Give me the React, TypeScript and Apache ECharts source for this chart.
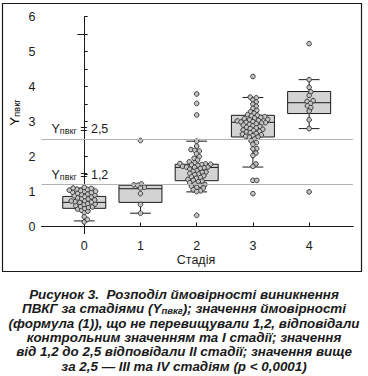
import React, { useEffect, useRef } from "react";
import * as echarts from "echarts";

// ---- data ----
const stages = [0, 1, 2, 3, 4];
const yTickValues = [0, 0.5, 1, 1.5, 2, 2.5, 3, 3.5, 4, 4.5, 5, 5.5, 6];
const yLabelValues = [0, 1, 2, 3, 4, 5, 6];

// box stats: [lower whisker, Q1, median, Q3, upper whisker]
const box0 = [0.16, 0.52, 0.69, 0.86, 1.1];
const box1 = [0.38, 0.69, 1.08, 1.18, 1.2];
const box2 = [0.99, 1.31, 1.69, 1.78, 2.44];
const box3 = [1.7, 2.56, 2.98, 3.18, 3.69];
const box4 = [2.8, 3.23, 3.54, 3.86, 4.2];

const stage0 = [0.13, 0.2, 0.28, 0.4, 0.44, 0.47, 0.5, 0.52, 0.55, 0.56, 0.58, 0.6, 0.63, 0.64, 0.66, 0.69, 0.7, 0.71, 0.73, 0.74, 0.76, 0.79, 0.8, 0.82, 0.85, 0.86, 0.88, 0.9, 0.92, 0.93, 0.95, 0.97, 0.98, 1.0, 1.01, 1.03, 1.04, 1.06, 1.07, 1.09, 1.1, 1.12];
const stage1 = [2.46, 1.22, 1.19, 1.18, 1.12, 1.1, 0.94, 0.63, 0.38];
const stage2 = [3.79, 3.52, 3.19, 2.44, 2.3, 2.2, 2.18, 2.16, 2.08, 2.0, 1.95, 1.9, 1.85, 1.82, 1.8, 1.79, 1.78, 1.77, 1.76, 1.75, 1.72, 1.7, 1.7, 1.69, 1.68, 1.66, 1.64, 1.6, 1.58, 1.56, 1.55, 1.52, 1.5, 1.48, 1.45, 1.42, 1.4, 1.38, 1.35, 1.32, 1.3, 1.28, 1.25, 1.22, 1.2, 1.18, 1.15, 1.12, 1.1, 1.05, 1.02, 1.0, 0.32];
const stage3 = [4.29, 3.7, 3.68, 3.62, 3.56, 3.5, 3.44, 3.38, 3.32, 3.28, 3.24, 3.2, 3.18, 3.16, 3.14, 3.12, 3.1, 3.08, 3.06, 3.05, 3.03, 3.02, 3.0, 2.99, 2.98, 2.97, 2.96, 2.94, 2.92, 2.9, 2.88, 2.86, 2.84, 2.82, 2.8, 2.78, 2.76, 2.74, 2.72, 2.7, 2.68, 2.66, 2.64, 2.62, 2.6, 2.58, 2.56, 2.55, 2.5, 2.45, 2.4, 2.35, 2.23, 2.22, 2.1, 2.03, 1.79, 1.72, 1.32, 1.32, 0.94];
const stage4 = [5.23, 4.2, 3.98, 3.85, 3.75, 3.6, 3.58, 3.52, 3.45, 3.4, 3.3, 3.05, 2.8, 0.99];

const thresholds = [2.5, 1.2];
const thresholdLabels = ["2,5", "1,2"];

const captionLines = [
  "Рисунок 3.  Розподіл ймовірності виникнення",
  "ПВКГ за стадіями (Y{s|пвкг}); значення ймовірності",
  "(формула (1)), що не перевищували 1,2, відповідали",
  "контрольним значенням та І стадії; значення",
  "від 1,2 до 2,5 відповідали ІІ стадії; значення вище",
  "за 2,5 — ІІІ та IV стадіям (р < 0,0001)",
];

const boxes = [box0, box1, box2, box3, box4];
const groups = [stage0, stage1, stage2, stage3, stage4];

const FONT = "'Liberation Sans', Arial, sans-serif";
const BOX_W = 0.765;
const CAP_W = 0.37;
const DOT_R = 2.3;
const DOT_D = 3.9;

function swarm(ys: number[], d: number): number[] {
  const order = ys.map((_, i) => i).sort((a, b) => ys[b] - ys[a]);
  const placed: { x: number; y: number }[] = [];
  const off = new Array(ys.length).fill(0);
  for (const i of order) {
    const y = ys[i];
    const near = placed.filter((p) => Math.abs(p.y - y) < d);
    const cands = [0];
    for (const p of near) {
      const dx = Math.sqrt(d * d - (p.y - y) * (p.y - y));
      cands.push(p.x + dx, p.x - dx);
    }
    cands.sort((a, b) => Math.abs(a) - Math.abs(b));
    let chosen = 0;
    for (const c of cands) {
      let ok = true;
      for (const p of near) {
        const dy = p.y - y;
        if ((p.x - c) * (p.x - c) + dy * dy < d * d - 1e-6) {
          ok = false;
          break;
        }
      }
      if (ok) {
        chosen = c;
        break;
      }
    }
    off[i] = chosen;
    placed.push({ x: chosen, y });
  }
  return off;
}

export default function App() {
  const ref = useRef<HTMLDivElement>(null);
  useEffect(() => {
    if (!ref.current) return;
    const chart = echarts.init(ref.current, null, { renderer: "svg" });
    const cache = new Map<string, number[]>();

    const boxData = boxes.map((b, g) => [stages[g], ...b]);
    const pointData: number[][] = [];
    groups.forEach((arr, g) => arr.forEach((v, i) => pointData.push([stages[g], v, i, g])));

    const subRich = {
      a: { fontSize: 12.5, lineHeight: 14, fontFamily: FONT, color: "#1a1a1a" },
      s: { fontSize: 9, lineHeight: 10, fontFamily: FONT, color: "#1a1a1a", padding: [4, 0, 0, 0] },
    };

    const graphics: any[] = [
      {
        type: "rect",
        shape: { x: 2.5, y: 3.5, width: 359, height: 268 },
        style: { fill: "none", stroke: "#1a1a1a", lineWidth: 1.2 },
        silent: true,
      },
      {
        type: "text",
        x: 14,
        y: 112.5,
        rotation: Math.PI / 2,
        style: {
          text: "{a|Y}{s|пвкг}",
          rich: {
            a: { fontSize: 13, lineHeight: 14, fontFamily: FONT, color: "#1a1a1a" },
            s: { fontSize: 9.5, lineHeight: 10, fontFamily: FONT, color: "#1a1a1a", padding: [4, 0, 0, 0] },
          },
          align: "center",
          verticalAlign: "middle",
        },
      },
      {
        type: "text",
        x: 196,
        y: 259.5,
        style: {
          text: "Стадія",
          fontSize: 12.5,
          lineHeight: 13,
          fontFamily: FONT,
          fill: "#1a1a1a",
          align: "center",
          verticalAlign: "middle",
        },
      },
    ];
    captionLines.forEach((line, k) => {
      graphics.push({
        type: "text",
        x: 184,
        y: 294.5 + k * 14.3,
        style: {
          text: line,
          align: "center",
          verticalAlign: "middle",
          fontSize: 13.4,
          lineHeight: 13,
          fontWeight: "bold",
          fontStyle: "italic",
          fontFamily: FONT,
          fill: "#1a1a1a",
          rich: {
            s: { fontSize: 9.5, lineHeight: 9, fontWeight: "bold", fontStyle: "italic", fontFamily: FONT, fill: "#1a1a1a", padding: [4, 0, 0, 0] },
          },
        },
      });
    });

    chart.setOption({
      animation: false,
      grid: { left: 41.5, right: 15, top: 16.7, bottom: 142.5, containLabel: false },
      xAxis: [
        {
          type: "value",
          min: -0.76,
          max: 4.78,
          splitLine: { show: false },
          axisLine: { show: true, lineStyle: { color: "#1a1a1a", width: 1 } },
          axisTick: { show: true, inside: true, length: 4, customValues: stages, lineStyle: { color: "#1a1a1a" } },
          axisLabel: { customValues: stages, color: "#1a1a1a", fontSize: 12.5, lineHeight: 12, fontFamily: FONT, margin: 6 },
        },
        {
          type: "value",
          position: "top",
          min: -0.76,
          max: 4.78,
          splitLine: { show: false },
          axisLine: { show: true, lineStyle: { color: "#1a1a1a", width: 1 } },
          axisTick: { show: false },
          axisLabel: { show: false },
        },
      ],
      yAxis: [
        {
          type: "value",
          min: -0.2,
          max: 6,
          splitLine: { show: false },
          axisLine: { show: true, lineStyle: { color: "#1a1a1a", width: 1 } },
          axisTick: { show: true, inside: true, length: 3.5, customValues: yTickValues, lineStyle: { color: "#1a1a1a" } },
          axisLabel: { customValues: yLabelValues, color: "#1a1a1a", fontSize: 12.5, fontFamily: FONT, margin: 6 },
        },
        {
          type: "value",
          position: "right",
          min: -0.2,
          max: 6,
          splitLine: { show: false },
          axisLine: { show: true, lineStyle: { color: "#1a1a1a", width: 1 } },
          axisTick: { show: true, inside: true, length: 7, customValues: [5.5], lineStyle: { color: "#1a1a1a" } },
          axisLabel: { show: false },
        },
      ],
      graphic: graphics,
      series: [
        {
          type: "line",
          data: [],
          xAxisIndex: 0,
          yAxisIndex: 0,
          markLine: {
            silent: true,
            symbol: "none",
            lineStyle: { color: "#b3b3b3", width: 1, type: "solid" },
            data: thresholds.map((t, k) => ({
              yAxis: t,
              label: {
                show: true,
                position: "insideStartTop",
                distance: [10, 3],
                formatter: "{a|Y}{s|пвкг}{a| = " + thresholdLabels[k] + "}",
                rich: subRich,
              },
            })),
          },
        },
        {
          type: "custom",
          z: 2,
          xAxisIndex: 0,
          yAxisIndex: 0,
          data: boxData,
          encode: { x: 0, y: [1, 2, 3, 4, 5] },
          renderItem: (params: any, api: any) => {
            const g = api.value(0);
            const lo = api.coord([g, api.value(1)]);
            const q1 = api.coord([g, api.value(2)]);
            const md = api.coord([g, api.value(3)]);
            const q3 = api.coord([g, api.value(4)]);
            const hi = api.coord([g, api.value(5)]);
            const w = api.size([BOX_W, 0])[0];
            const cw = api.size([CAP_W, 0])[0];
            const x = md[0];
            const st = { stroke: "#1a1a1a", lineWidth: 1, fill: "none" };
            return {
              type: "group",
              children: [
                { type: "line", shape: { x1: x, y1: q1[1], x2: x, y2: lo[1] }, style: st },
                { type: "line", shape: { x1: x, y1: q3[1], x2: x, y2: hi[1] }, style: st },
                { type: "line", shape: { x1: x - cw / 2, y1: lo[1], x2: x + cw / 2, y2: lo[1] }, style: st },
                { type: "line", shape: { x1: x - cw / 2, y1: hi[1], x2: x + cw / 2, y2: hi[1] }, style: st },
                {
                  type: "rect",
                  shape: { x: x - w / 2, y: q3[1], width: w, height: q1[1] - q3[1] },
                  style: { fill: "#d3d3d3", stroke: "#1a1a1a", lineWidth: 1 },
                },
                { type: "line", shape: { x1: x - w / 2, y1: md[1], x2: x + w / 2, y2: md[1] }, style: st },
              ],
            };
          },
        },
        {
          type: "custom",
          z: 3,
          xAxisIndex: 0,
          yAxisIndex: 0,
          data: pointData,
          encode: { x: 0, y: 1 },
          renderItem: (params: any, api: any) => {
            const gx = api.value(0);
            const v = api.value(1);
            const i = api.value(2);
            const g = api.value(3);
            const p = api.coord([gx, v]);
            const base = api.coord([gx, 0]);
            const key = g + ":" + base[0].toFixed(2) + ":" + base[1].toFixed(2);
            let off = cache.get(key);
            if (!off) {
              const ys = groups[g].map((val) => api.coord([gx, val])[1]);
              off = swarm(ys, DOT_D);
              cache.set(key, off);
            }
            return {
              type: "circle",
              shape: { cx: p[0] + off[i], cy: p[1], r: DOT_R },
              style: { fill: "#c4c4c4", stroke: "#3a3a3a", lineWidth: 1 },
            };
          },
        },
      ],
    });
    return () => chart.dispose();
  }, []);
  return <div ref={ref} style={{ position: "absolute", left: 0, top: 0, width: 368, height: 376 }} />;
}
